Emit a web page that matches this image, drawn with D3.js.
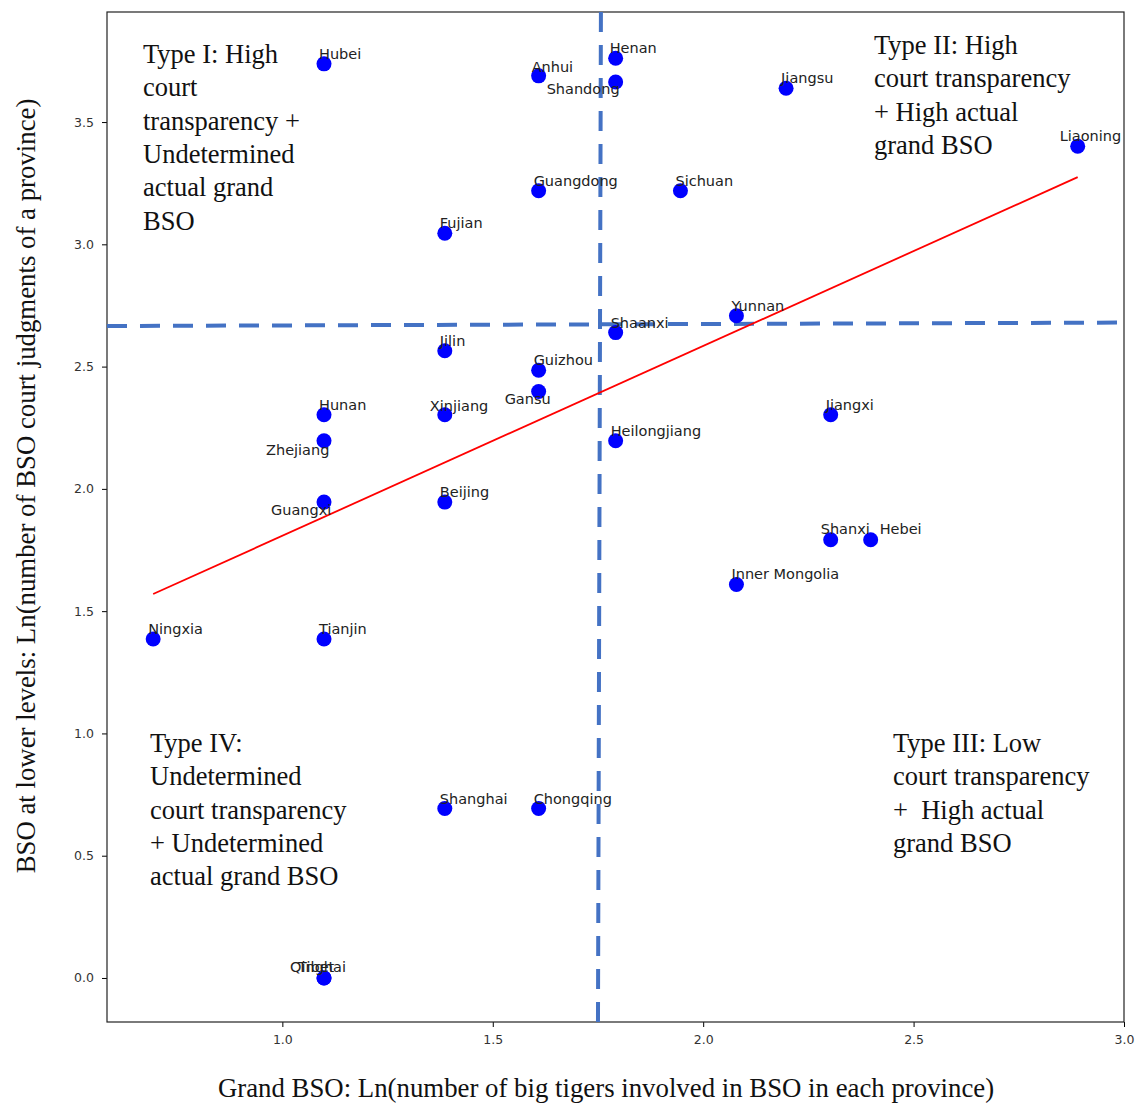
<!DOCTYPE html>
<html>
<head>
<meta charset="utf-8">
<script src="https://cdn.jsdelivr.net/npm/d3@7"></script>
<style>
  body { margin: 0; background: #fff; }
  .tick text { font-family: "DejaVu Sans", sans-serif; font-size: 12.5px; fill: #333; }
  .serif { font-family: "Liberation Serif", "Times New Roman", serif; fill: #111; }
</style>
</head>
<body>
<div id="chart"></div>
<script>
// province names and values (natural logs)
const provinces = ["Hubei", "Anhui", "Henan", "Shandong", "Jiangsu", "Liaoning", "Guangdong", "Sichuan",
  "Fujian", "Yunnan", "Shaanxi", "Jilin", "Guizhou", "Gansu", "Hunan", "Xinjiang", "Jiangxi", "Zhejiang",
  "Heilongjiang", "Guangxi", "Beijing", "Shanxi", "Hebei", "Inner Mongolia", "Ningxia", "Tianjin",
  "Shanghai", "Chongqing", "Qinghai", "Tibet"];
const grandBSO = [1.099, 1.609, 1.792, 1.792, 2.197, 2.890, 1.609, 1.946,
  1.386, 2.079, 1.792, 1.386, 1.609, 1.609, 1.099, 1.386, 2.303, 1.099,
  1.792, 1.099, 1.386, 2.303, 2.398, 2.079, 0.693, 1.099,
  1.386, 1.609, 1.099, 1.099];
const lowerBSO = [3.738, 3.689, 3.761, 3.664, 3.638, 3.401, 3.219, 3.219,
  3.045, 2.708, 2.639, 2.565, 2.485, 2.398, 2.303, 2.303, 2.303, 2.197,
  2.197, 1.946, 1.946, 1.792, 1.792, 1.609, 1.386, 1.386,
  0.693, 0.693, 0, 0];

// fitted line endpoints
const fitX = [0.693, 2.890];
const fitY = [1.570, 3.275];

// hand-drawn split lines (top/bottom x, left/right y)
const splitX = [1.757, 1.750];
const splitY = [2.666, 2.680];

const xTicks = [1.0, 1.5, 2.0, 2.5, 3.0];
const yTicks = [0.0, 0.5, 1.0, 1.5, 2.0, 2.5, 3.0, 3.5];

const quadrantText = [
  { lines: ["Type I: High", "court", "transparency +", "Undetermined", "actual grand", "BSO"], x: 143, y: 63 },
  { lines: ["Type II: High", "court transparency", "+ High actual", "grand BSO"], x: 874, y: 54 },
  { lines: ["Type III: Low", "court transparency", "+  High actual", "grand BSO"], x: 893, y: 752 },
  { lines: ["Type IV:", "Undetermined", "court transparency", "+ Undetermined", "actual grand BSO"], x: 150, y: 752 }
];

// label offsets (px) from the point, default [-5, -5]
const labelOffsets = {
  "Shandong": [-69, 12], "Liaoning": [-18, -5], "Gansu": [-34, 12], "Xinjiang": [-15, -4],
  "Zhejiang": [-58, 14], "Guangxi": [-53, 13], "Shanxi": [-10, -6], "Hebei": [9, -6],
  "Qinghai": [-34, -6], "Tibet": [-26, -6], "Anhui": [-7, -4], "Henan": [-6, -5]
};

const W = 1137, H = 1104;
const margin = { top: 12, right: 13, bottom: 82, left: 107 };

const svg = d3.select("#chart").append("svg")
  .attr("width", W)
  .attr("height", H);

const x = d3.scaleLinear().domain([0.5833, 3.0]).range([margin.left, W - margin.right]);
const y = d3.scaleLinear().domain([-0.18, 3.95]).range([H - margin.bottom, margin.top]);

// axes
svg.append("g")
  .attr("transform", `translate(0, ${H - margin.bottom})`)
  .call(d3.axisBottom(x).tickValues(xTicks).tickFormat(d3.format(".1f")).tickSize(5).tickPadding(8))
  .call(g => g.select(".domain").remove());

svg.append("g")
  .attr("transform", `translate(${margin.left}, 0)`)
  .call(d3.axisLeft(y).tickValues(yTicks).tickFormat(d3.format(".1f")).tickSize(5).tickPadding(8))
  .call(g => g.select(".domain").remove());

// frame
svg.append("rect")
  .attr("x", margin.left)
  .attr("y", margin.top)
  .attr("width", W - margin.left - margin.right)
  .attr("height", H - margin.top - margin.bottom)
  .attr("fill", "none")
  .attr("stroke", "#222")
  .attr("stroke-width", 1.2);

// dashed quadrant lines
svg.append("line")
  .attr("x1", x(splitX[0])).attr("y1", y.range()[1])
  .attr("x2", x(splitX[1])).attr("y2", y.range()[0])
  .attr("stroke", "#4472C4").attr("stroke-width", 4)
  .attr("stroke-dasharray", "20,13");

svg.append("line")
  .attr("x1", x.range()[0]).attr("y1", y(splitY[0]))
  .attr("x2", x.range()[1]).attr("y2", y(splitY[1]))
  .attr("stroke", "#4472C4").attr("stroke-width", 4)
  .attr("stroke-dasharray", "20,13");

// fit line
svg.append("line")
  .attr("x1", x(fitX[0])).attr("y1", y(fitY[0]))
  .attr("x2", x(fitX[1])).attr("y2", y(fitY[1]))
  .attr("stroke", "red").attr("stroke-width", 1.8);

const data = provinces.map((p, i) => ({ name: p, gx: grandBSO[i], ly: lowerBSO[i] }));

svg.selectAll("circle.dot")
  .data(data)
  .enter()
  .append("circle")
  .attr("class", "dot")
  .attr("cx", d => x(d.gx))
  .attr("cy", d => y(d.ly))
  .attr("r", 7.5)
  .attr("fill", "#0000ff");

svg.selectAll("text.lbl")
  .data(data)
  .enter()
  .append("text")
  .attr("class", "lbl")
  .attr("x", d => x(d.gx) + (labelOffsets[d.name] || [-5, -5])[0])
  .attr("y", d => y(d.ly) + (labelOffsets[d.name] || [-5, -5])[1])
  .attr("font-family", "DejaVu Sans, sans-serif")
  .attr("font-size", 14.5)
  .attr("fill", "#222")
  .text(d => d.name);

// quadrant descriptions
quadrantText.forEach(q => {
  const t = svg.append("text")
    .attr("class", "serif")
    .attr("font-size", 26.5);
  q.lines.forEach((line, i) => {
    t.append("tspan")
      .attr("x", q.x)
      .attr("y", q.y + i * 33.3)
      .attr("xml:space", "preserve")
      .style("white-space", "pre")
      .text(line);
  });
});

// axis labels
svg.append("text")
  .attr("class", "serif")
  .attr("text-anchor", "middle")
  .attr("font-size", 26.8)
  .attr("x", 606)
  .attr("y", 1097)
  .text("Grand BSO: Ln(number of big tigers involved in BSO in each province)");

svg.append("text")
  .attr("class", "serif")
  .attr("text-anchor", "middle")
  .attr("font-size", 26.8)
  .attr("transform", `translate(35, 486) rotate(-90)`)
  .text("BSO at lower levels: Ln(number of BSO court judgments of a province)");
</script>
</body>
</html>
